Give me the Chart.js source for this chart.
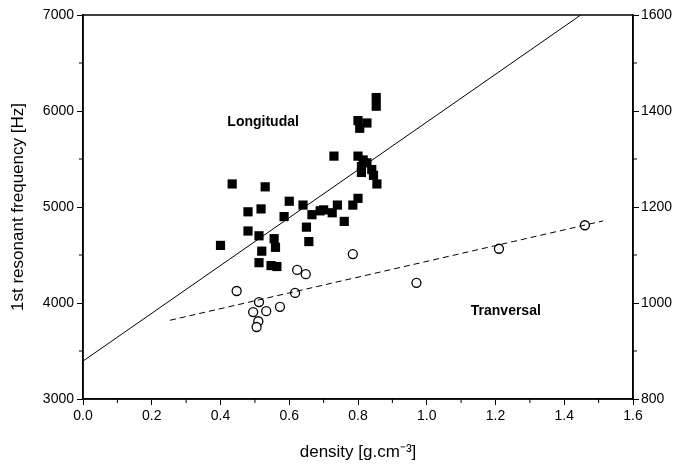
<!DOCTYPE html>
<html>
<head>
<meta charset="utf-8">
<script src="https://cdn.jsdelivr.net/npm/chart.js@4"></script>
<style>
html,body{margin:0;padding:0;background:#fff;}
#wrap{width:681px;height:467px;}
</style>
</head>
<body>
<div id="wrap"><canvas id="c" width="681" height="467"></canvas></div>
<script>
// Longitudinal (filled squares, left axis, Hz)
const longDensity = [0.40,0.434,0.48,0.48,0.518,0.512,0.52,0.512,0.53,0.556,0.56,0.547,0.564,0.585,0.60,0.64,0.65,0.657,0.666,0.69,0.70,0.725,0.74,0.73,0.76,0.785,0.80,0.80,0.805,0.826,0.853,0.853,0.80,0.815,0.81,0.81,0.826,0.84,0.845,0.855];
const longFreq    = [4600,5240,4950,4750,4980,4700,4540,4420,5210,4670,4580,4390,4380,4900,5060,5020,4790,4640,4920,4960,4970,4940,5020,5530,4850,5020,5090,5900,5820,5875,6140,6050,5530,5490,5420,5360,5460,5390,5330,5240];
// Transversal (open circles, right axis, Hz)
const transDensity = [0.447,0.623,0.648,0.617,0.512,0.495,0.533,0.573,0.51,0.505,0.785,0.97,1.21,1.46];
const transFreq    = [1025,1069,1060,1021,1002,981,983,992,962,950,1102,1042,1113,1162];
// Fitted lines
const longFitX = [0, 1.448];
const longFitY = [3395, 7000];
const transFitX = [0.253, 1.513];
const transFitY = [964, 1171];
// Axis ticks
const xTicks = [0.0,0.2,0.4,0.6,0.8,1.0,1.2,1.4,1.6];
const yLeftTicks = [3000,4000,5000,6000,7000];
const yRightTicks = [800,1000,1200,1400,1600];
// Annotations
const labels = [
  {text:'Longitudal', x:0.524, y:5885},
  {text:'Tranversal', x:1.23, y:3917}
];

const pts = (xs, ys) => xs.map((x,i)=>({x:x, y:ys[i]}));
const FONT = '"Liberation Sans", Arial, sans-serif';

const framePlugin = {
  id:'frame',
  afterDraw(chart){
    const {ctx, chartArea:a, scales} = chart;
    ctx.save();
    ctx.strokeStyle = '#000';
    ctx.lineWidth = 1.5;
    ctx.strokeRect(a.left, a.top, a.right - a.left, a.bottom - a.top);
    ctx.lineWidth = 1;
    ctx.beginPath();
    for (let i=0;i<xTicks.length-1;i++){
      const px = scales.x.getPixelForValue((xTicks[i]+xTicks[i+1])/2);
      ctx.moveTo(px, a.bottom); ctx.lineTo(px, a.bottom+4);
    }
    for (let i=0;i<yLeftTicks.length-1;i++){
      const py = scales.y.getPixelForValue((yLeftTicks[i]+yLeftTicks[i+1])/2);
      ctx.moveTo(a.left, py); ctx.lineTo(a.left-4, py);
    }
    for (let i=0;i<yRightTicks.length-1;i++){
      const py = scales.y2.getPixelForValue((yRightTicks[i]+yRightTicks[i+1])/2);
      ctx.moveTo(a.right, py); ctx.lineTo(a.right+4, py);
    }
    ctx.stroke();
    ctx.fillStyle = '#000';
    ctx.font = 'bold 14px ' + FONT;
    ctx.textAlign = 'center';
    ctx.textBaseline = 'middle';
    labels.forEach(l=>{
      ctx.fillText(l.text, scales.x.getPixelForValue(l.x), scales.y.getPixelForValue(l.y));
    });
    ctx.restore();
  }
};

new Chart(document.getElementById('c'), {
  type:'scatter',
  data:{
    datasets:[
      {label:'Longitudinal fit', data:pts(longFitX,longFitY), type:'line', yAxisID:'y',
       borderColor:'#000', borderWidth:1, pointRadius:0, showLine:true, fill:false},
      {label:'Transversal fit', data:pts(transFitX,transFitY), type:'line', yAxisID:'y2',
       borderColor:'#000', borderWidth:1, borderDash:[6,4], pointRadius:0, showLine:true, fill:false},
      {label:'Longitudinal', data:pts(longDensity,longFreq), yAxisID:'y',
       pointStyle:'rect', pointRadius:6.5, backgroundColor:'#000', borderColor:'#000', borderWidth:0},
      {label:'Transversal', data:pts(transDensity,transFreq), yAxisID:'y2',
       pointStyle:'circle', pointRadius:4.5, backgroundColor:'#fff', borderColor:'#000', borderWidth:1.3}
    ]
  },
  options:{
    responsive:false,
    animation:false,
    layout:{padding:{top:15, left:0, right:0, bottom:0}},
    plugins:{legend:{display:false}, tooltip:{enabled:false}},
    scales:{
      x:{
        type:'linear', min:0, max:1.6, position:'bottom',
        afterBuildTicks: s => { s.ticks = xTicks.map(v=>({value:v})); },
        afterFit: s => { s.height = 68; },
        grid:{drawOnChartArea:false, drawTicks:true, tickLength:6, color:'#000', lineWidth:1},
        border:{display:true, color:'#000', width:1.5},
        ticks:{color:'#000', font:{family:FONT, size:14}, padding:3, maxRotation:0,
               callback:v=>Number(v).toFixed(1)},
        title:{display:true, text:'density [g.cm⁻³]', color:'#000', font:{family:FONT, size:17}, padding:{top:10}}
      },
      y:{
        type:'linear', min:3000, max:7000, position:'left',
        afterBuildTicks: s => { s.ticks = yLeftTicks.map(v=>({value:v})); },
        afterFit: s => { s.width = 83; },
        grid:{drawOnChartArea:false, drawTicks:true, tickLength:6, color:'#000', lineWidth:1},
        border:{display:true, color:'#000', width:1.5},
        ticks:{color:'#000', font:{family:FONT, size:14}, padding:3, callback:v=>String(v)},
        title:{display:true, text:'1st resonant frequency [Hz]', color:'#000', font:{family:FONT, size:17}, padding:{top:8, bottom:4}}
      },
      y2:{
        type:'linear', min:800, max:1600, position:'right',
        afterBuildTicks: s => { s.ticks = yRightTicks.map(v=>({value:v})); },
        afterFit: s => { s.width = 48; },
        grid:{drawOnChartArea:false, drawTicks:true, tickLength:6, color:'#000', lineWidth:1},
        border:{display:true, color:'#000', width:1.5},
        ticks:{color:'#000', font:{family:FONT, size:14}, padding:2, callback:v=>String(v)}
      }
    }
  },
  plugins:[framePlugin]
});
</script>
</body>
</html>
